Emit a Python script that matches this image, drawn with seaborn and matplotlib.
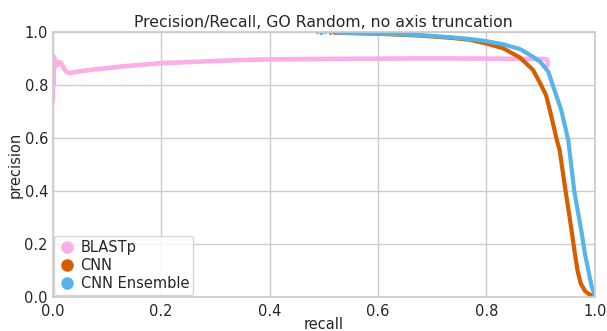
import matplotlib
matplotlib.use("Agg")
import matplotlib.pyplot as plt
from matplotlib.lines import Line2D
import seaborn as sns
import pandas as pd

# Precision/recall curves per method
blast_recall = [0.000, 0.001, 0.001, 0.002, 0.002, 0.003, 0.004, 0.006, 0.009, 0.013,
                0.017, 0.021, 0.026, 0.031, 0.040, 0.050, 0.060, 0.080, 0.100, 0.130,
                0.160, 0.200, 0.250, 0.300, 0.350, 0.400, 0.500, 0.600, 0.700, 0.800,
                0.880, 0.905, 0.912, 0.913]
blast_precision = [0.740, 0.910, 0.800, 0.905, 0.860, 0.900, 0.870, 0.890, 0.878, 0.888,
                   0.878, 0.862, 0.850, 0.846, 0.850, 0.853, 0.856, 0.861, 0.865, 0.872,
                   0.877, 0.884, 0.888, 0.892, 0.896, 0.898, 0.900, 0.901, 0.902, 0.901,
                   0.900, 0.900, 0.897, 0.876]

cnn_recall = [0.520, 0.600, 0.677, 0.738, 0.770, 0.800, 0.831, 0.862, 0.886, 0.899,
              0.910, 0.917, 0.930, 0.935, 0.946, 0.955, 0.962, 0.968, 0.974, 0.982,
              0.991, 1.000]
cnn_precision = [0.999, 0.995, 0.988, 0.979, 0.972, 0.958, 0.940, 0.905, 0.858, 0.808,
                 0.763, 0.706, 0.592, 0.555, 0.400, 0.280, 0.180, 0.100, 0.050, 0.022,
                 0.008, 0.002]

ens_head_recall = [0.487, 0.494, 0.503, 0.512]
ens_head_precision = [1.000, 0.999, 1.000, 0.999]
ens_recall = [0.524, 0.600, 0.677, 0.738, 0.770, 0.800, 0.831, 0.862, 0.886, 0.899,
              0.914, 0.920, 0.938, 0.951, 0.962, 0.975, 0.982, 0.988, 0.994, 1.000]
ens_precision = [0.999, 0.996, 0.990, 0.981, 0.975, 0.967, 0.955, 0.937, 0.908, 0.889,
                 0.852, 0.815, 0.706, 0.592, 0.400, 0.250, 0.160, 0.100, 0.040, 0.005]

labels = ["BLASTp", "CNN", "CNN Ensemble"]
colors = ["#fbafe4", "#d55e00", "#56b4e9"]

sns.set_theme(style="whitegrid")
plt.rcParams["font.family"] = ["DejaVu Sans"]

fig, ax = plt.subplots(figsize=(6.07, 3.31), dpi=100)
fig.subplots_adjust(left=0.087, right=0.980, top=0.902, bottom=0.103)

df_blast = pd.DataFrame({"recall": blast_recall, "precision": blast_precision})
df_cnn = pd.DataFrame({"recall": cnn_recall, "precision": cnn_precision})
df_ens = pd.DataFrame({"recall": ens_recall, "precision": ens_precision})
df_head = pd.DataFrame({"recall": ens_head_recall, "precision": ens_head_precision})

sns.lineplot(data=df_blast, x="recall", y="precision", sort=False, estimator=None,
             color=colors[0], linewidth=3.3, ax=ax)
sns.lineplot(data=df_cnn, x="recall", y="precision", sort=False, estimator=None,
             color=colors[1], linewidth=3.0, ax=ax)
sns.lineplot(data=df_ens, x="recall", y="precision", sort=False, estimator=None,
             color=colors[2], linewidth=3.0, ax=ax)
sns.scatterplot(data=df_head, x="recall", y="precision", color=colors[2], s=6,
                linewidth=0, ax=ax)

ax.set_xlim(0, 1)
ax.set_ylim(0, 1)
ax.set_xticks([0, 0.2, 0.4, 0.6, 0.8, 1.0])
ax.set_yticks([0, 0.2, 0.4, 0.6, 0.8, 1.0])
ax.tick_params(axis="both", labelsize=10.5, length=0)
ax.tick_params(axis="y", pad=3.5)
ax.tick_params(axis="x", pad=5)
ax.set_xlabel("recall", fontsize=10.5, labelpad=-1.5)
ax.set_ylabel("precision", fontsize=10.5, labelpad=1)
ax.set_title("Precision/Recall, GO Random, no axis truncation", fontsize=11.3, pad=4)

handles = [Line2D([], [], marker="o", linestyle="", markersize=9, color=c,
                  markeredgewidth=0) for c in colors]
ax.legend(handles, labels, loc="lower left", fontsize=10.5, handletextpad=0.3,
          borderpad=0.3, labelspacing=0.2, borderaxespad=0.1, handlelength=1.2)

fig.savefig("out.png", dpi=100)
